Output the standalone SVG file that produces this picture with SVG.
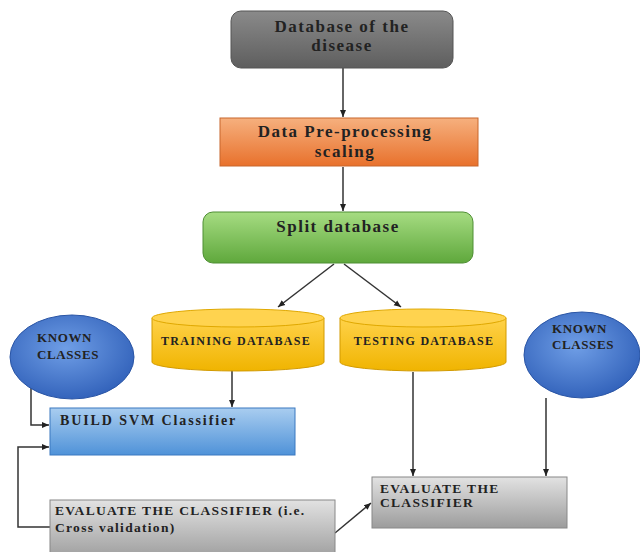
<svg xmlns="http://www.w3.org/2000/svg" width="640" height="552" viewBox="0 0 640 552">
<defs>
<linearGradient id="gGray" x1="0" y1="0" x2="0" y2="1"><stop offset="0" stop-color="#8a8a8a"/><stop offset="1" stop-color="#5e5e5e"/></linearGradient>
<linearGradient id="gOrange" x1="0" y1="0" x2="0" y2="1"><stop offset="0" stop-color="#f6b07e"/><stop offset="1" stop-color="#e8712c"/></linearGradient>
<linearGradient id="gGreen" x1="0" y1="0" x2="0" y2="1"><stop offset="0" stop-color="#a6dc82"/><stop offset="1" stop-color="#5fa83c"/></linearGradient>
<linearGradient id="gYellow" x1="0" y1="0" x2="0" y2="1"><stop offset="0" stop-color="#ffd24a"/><stop offset="1" stop-color="#f0b400"/></linearGradient>
<linearGradient id="gBlueBox" x1="0" y1="0" x2="0" y2="1"><stop offset="0" stop-color="#a9cdf0"/><stop offset="1" stop-color="#4f92d8"/></linearGradient>
<linearGradient id="gLight" x1="0" y1="0" x2="0" y2="1"><stop offset="0" stop-color="#e2e2e2"/><stop offset="1" stop-color="#9c9c9c"/></linearGradient>
<radialGradient id="gBlue" cx="0.45" cy="0.4" r="0.65"><stop offset="0" stop-color="#6f9ee6"/><stop offset="1" stop-color="#2f5fb8"/></radialGradient>
<marker id="arr" markerWidth="8" markerHeight="8" refX="7" refY="4" orient="auto" markerUnits="userSpaceOnUse"><path d="M0,1 L7,4 L0,7 Z" fill="#222"/></marker>
</defs>
<style>
.t{font-family:"Liberation Serif","Times New Roman",serif;font-weight:bold;fill:#222}
.big{font-size:17px;letter-spacing:1.5px}
.cap{font-size:12px;letter-spacing:1.3px}
.lbl{font-size:13.5px;letter-spacing:1.3px}
.kn{font-size:13px;letter-spacing:0.6px}
.c{stroke:#333;stroke-width:1.5;fill:none}
</style>
<g id="connectors">
<line class="c" x1="343" y1="68" x2="343" y2="117" marker-end="url(#arr)"/>
<line class="c" x1="343" y1="167" x2="343" y2="211" marker-end="url(#arr)"/>
<line class="c" x1="334" y1="264" x2="278" y2="307" marker-end="url(#arr)"/>
<line class="c" x1="344" y1="264" x2="401" y2="307" marker-end="url(#arr)"/>
<line class="c" x1="232" y1="370" x2="232" y2="407" marker-end="url(#arr)"/>
<polyline class="c" points="31,388 31,425 49,425" marker-end="url(#arr)"/>
<polyline class="c" points="50,527 18,527 18,447 49,447" marker-end="url(#arr)"/>
<line class="c" x1="413" y1="372" x2="413" y2="476" marker-end="url(#arr)"/>
<line class="c" x1="546" y1="398" x2="546" y2="476" marker-end="url(#arr)"/>
<line class="c" x1="335" y1="533" x2="371" y2="503" marker-end="url(#arr)"/>
</g>
<g id="db-disease">
<rect x="231" y="11" width="222" height="57" rx="10" fill="url(#gGray)" stroke="#555" stroke-width="1"/>
<text class="t big" x="342" y="32" text-anchor="middle">Database of the</text>
<text class="t big" x="342" y="51" text-anchor="middle">disease</text>
</g>
<g id="preprocessing">
<rect x="220" y="118" width="258" height="48" fill="url(#gOrange)" stroke="#c8662c" stroke-width="1"/>
<text class="t big" x="345" y="137" text-anchor="middle">Data Pre-processing</text>
<text class="t big" x="345" y="157" text-anchor="middle">scaling</text>
</g>
<g id="split">
<rect x="203" y="212" width="270" height="51" rx="10" fill="url(#gGreen)" stroke="#4f8f34" stroke-width="1"/>
<text class="t big" x="338" y="232" text-anchor="middle">Split database</text>
</g>
<g id="training-db">
<path d="M152,318 L152,362 A86,9 0 0 0 324,362 L324,318" fill="url(#gYellow)" stroke="#d29a00" stroke-width="1"/>
<ellipse cx="238" cy="318" rx="86" ry="9" fill="#ffd34f" stroke="#e0a800" stroke-width="1"/>
<text class="t cap" x="236" y="345" text-anchor="middle">TRAINING DATABASE</text>
</g>
<g id="testing-db">
<path d="M340,318 L340,362 A83,9 0 0 0 506,362 L506,318" fill="url(#gYellow)" stroke="#d29a00" stroke-width="1"/>
<ellipse cx="423" cy="318" rx="83" ry="9" fill="#ffd34f" stroke="#e0a800" stroke-width="1"/>
<text class="t cap" x="424" y="345" text-anchor="middle">TESTING DATABASE</text>
</g>
<g id="known-left">
<ellipse cx="72" cy="357" rx="62" ry="42" fill="url(#gBlue)" stroke="#2a55a5" stroke-width="1"/>
<text class="t kn" x="37" y="342">KNOWN</text>
<text class="t kn" x="37" y="359">CLASSES</text>
</g>
<g id="known-right">
<ellipse cx="582" cy="355" rx="58" ry="43" fill="url(#gBlue)" stroke="#2a55a5" stroke-width="1"/>
<text class="t kn" x="552" y="333">KNOWN</text>
<text class="t kn" x="552" y="349">CLASSES</text>
</g>
<g id="build-svm">
<rect x="50" y="408" width="245" height="47" fill="url(#gBlueBox)" stroke="#3a78c0" stroke-width="1"/>
<text class="t" x="60" y="425" font-size="14" letter-spacing="1.9">BUILD SVM  Classifier</text>
</g>
<g id="eval-cv">
<rect x="50" y="500" width="285" height="60" fill="url(#gLight)" stroke="#888" stroke-width="1"/>
<text class="t lbl" x="55" y="515">EVALUATE  THE  CLASSIFIER  (i.e.</text>
<text class="t lbl" x="55" y="532">Cross validation)</text>
</g>
<g id="eval">
<rect x="372" y="477" width="195" height="51" fill="url(#gLight)" stroke="#888" stroke-width="1"/>
<text class="t lbl" x="380" y="493">EVALUATE  THE</text>
<text class="t lbl" x="380" y="507">CLASSIFIER</text>
</g>
</svg>
